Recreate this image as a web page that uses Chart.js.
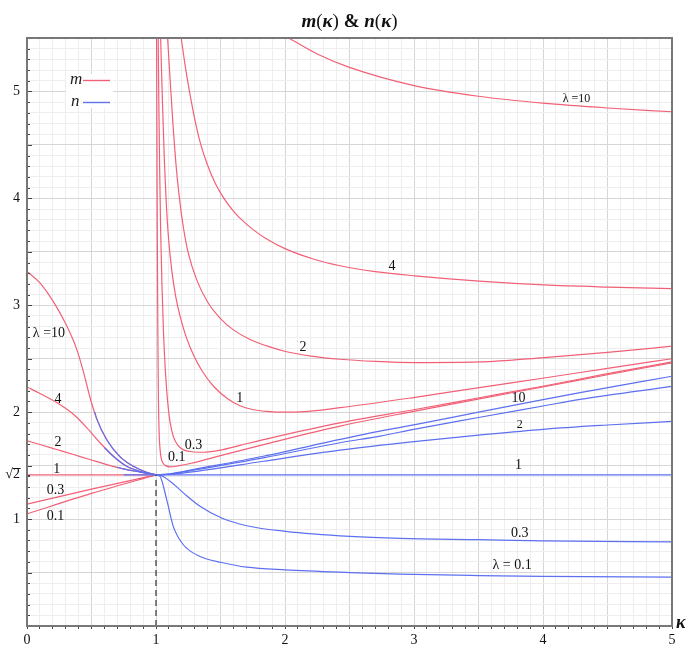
<!DOCTYPE html>
<html>
<head>
<meta charset="utf-8">
<script src="https://cdn.jsdelivr.net/npm/chart.js@4.4.0/dist/chart.umd.min.js"></script>
<style>
  html, body { margin: 0; padding: 0; background: #fff; }
  #wrap { width: 689px; height: 650px; }
</style>
</head>
<body>
<div id="wrap"><canvas id="chart" width="689" height="650"></canvas></div>
<script>
// m(κ) curves, left of κ = 1  ([κ, m])
const mLeft10 = [[0, 3.317], [0.1, 3.21], [0.204, 3.034], [0.307, 2.81], [0.385, 2.59], [0.437, 2.38], [0.488, 2.14], [0.54, 1.94], [0.617, 1.745], [0.72, 1.585], [0.824, 1.494], [0.928, 1.438], [1, 1.414]];
const mLeft4 = [[0, 2.236], [0.1, 2.175], [0.23, 2.09], [0.36, 1.98], [0.463, 1.855], [0.566, 1.714], [0.669, 1.588], [0.773, 1.494], [0.876, 1.447], [1, 1.414]];
const mLeft2 = [[0, 1.732], [0.1, 1.698], [0.23, 1.651], [0.36, 1.604], [0.488, 1.557], [0.617, 1.51], [0.747, 1.47], [0.876, 1.44], [1, 1.414]];
const mLeft1 = [[0, 1.414], [1, 1.414]];
const mLeft03 = [[0, 1.14], [0.5, 1.28], [1, 1.414]];
const mLeft01 = [[0, 1.049], [0.5, 1.24], [1, 1.414]];

// m(κ) curves, right of κ = 1
const mRight01 = [[1.004, 5.6], [1.01, 3.7], [1.014, 2.8], [1.018, 2.2], [1.024, 1.82], [1.031, 1.66], [1.04, 1.57], [1.057, 1.52], [1.075, 1.5], [1.109, 1.489], [1.18, 1.5], [1.264, 1.52], [1.522, 1.6], [1.909, 1.72], [2.426, 1.87], [3.008, 2.01], [3.506, 2.125], [4.008, 2.238], [4.5, 2.35], [5, 2.462]];
const mRight03 = [[1.016, 5.6], [1.021, 5.0], [1.028, 4.3], [1.036, 3.7], [1.046, 3.2], [1.058, 2.75], [1.072, 2.4], [1.09, 2.1], [1.11, 1.9], [1.135, 1.77], [1.17, 1.69], [1.21, 1.65], [1.264, 1.632], [1.33, 1.625], [1.393, 1.627], [1.5, 1.645], [1.651, 1.69], [1.909, 1.765], [2.426, 1.9], [3.008, 2.025], [3.506, 2.135], [4.008, 2.245], [4.5, 2.36], [5, 2.47]];
const mRight1 = [[1.03, 5.8], [1.036, 5.5], [1.05, 4.9], [1.065, 4.35], [1.08, 3.95], [1.095, 3.66], [1.12, 3.35], [1.15, 3.1], [1.186, 2.9], [1.235, 2.7], [1.289, 2.54], [1.36, 2.38], [1.444, 2.245], [1.55, 2.13], [1.651, 2.06], [1.75, 2.025], [1.858, 2.008], [2.0, 2.0], [2.116, 2.002], [2.426, 2.042], [3.008, 2.139], [3.506, 2.23], [4.008, 2.32], [4.5, 2.41], [5, 2.5]];
const mRight2 = [[1.086, 5.6], [1.09, 5.5], [1.11, 5.1], [1.134, 4.65], [1.16, 4.25], [1.186, 3.96], [1.212, 3.73], [1.25, 3.49], [1.315, 3.24], [1.4, 3.03], [1.496, 2.88], [1.6, 2.77], [1.729, 2.68], [1.858, 2.62], [2.013, 2.565], [2.2, 2.525], [2.426, 2.495], [2.7, 2.475], [3.008, 2.464], [3.506, 2.47], [4.008, 2.511], [4.5, 2.56], [5, 2.617]];
const mRight4 = [[1.195, 5.5], [1.238, 5.15], [1.289, 4.81], [1.341, 4.53], [1.4, 4.31], [1.46, 4.14], [1.527, 4.0], [1.6, 3.88], [1.651, 3.815], [1.75, 3.71], [1.858, 3.62], [2.0, 3.53], [2.219, 3.433], [2.426, 3.37], [2.7, 3.315], [3.008, 3.275], [3.506, 3.225], [4.008, 3.19], [4.5, 3.17], [5, 3.155]];
const mRight10 = [[2.0, 5.52], [2.25, 5.35], [2.5, 5.225], [3.0, 5.055], [3.5, 4.955], [4.0, 4.89], [4.5, 4.845], [5, 4.81]];

// n(κ) curves ([κ, n])
const nLeft10 = [[0.525, 2.0], [0.54, 1.94], [0.617, 1.745], [0.72, 1.585], [0.824, 1.494], [0.928, 1.438], [1, 1.414]];
const nLeft4 = [[0.6, 1.67], [0.669, 1.588], [0.773, 1.494], [0.876, 1.447], [1, 1.414]];
const nLeft2 = [[0.7, 1.485], [0.747, 1.47], [0.876, 1.44], [1, 1.414]];
const nLeft1 = [[0.75, 1.414], [1, 1.414]];
const nRight10 = [[1, 1.414], [1.1, 1.422], [1.315, 1.47], [1.832, 1.588], [2.426, 1.745], [2.736, 1.823], [3.008, 1.883], [3.5, 2.0], [4, 2.117], [4.287, 2.183], [5, 2.336]];
const nRight4 = [[1, 1.414], [1.1, 1.42], [1.315, 1.463], [1.832, 1.573], [2.426, 1.714], [2.736, 1.776], [3.008, 1.842], [3.5, 1.95], [4, 2.058], [4.287, 2.12], [5, 2.242]];
const nRight2 = [[1, 1.414], [1.1, 1.418], [1.315, 1.447], [1.832, 1.541], [2.426, 1.645], [3.0, 1.725], [3.5, 1.785], [4.0, 1.84], [4.5, 1.88], [5, 1.914]];
const nRight1 = [[1, 1.414], [5, 1.414]];
const nRight03 = [[1, 1.414], [1.018, 1.414], [1.109, 1.354], [1.212, 1.245], [1.341, 1.12], [1.509, 1.01], [1.703, 0.938], [2.005, 0.885], [2.504, 0.838], [2.891, 0.819], [3.5, 0.807], [4, 0.797], [5, 0.787]];
const nRight01 = [[1, 1.414], [1.031, 1.4], [1.083, 1.182], [1.134, 0.932], [1.212, 0.76], [1.341, 0.65], [1.509, 0.594], [1.703, 0.55], [2.005, 0.525], [2.504, 0.5], [2.891, 0.485], [3.5, 0.472], [4, 0.465], [5, 0.458]];

const kappaOne = [[1, 0], [1, 1.414]];

// axis labels
const xLabels = [0, 1, 2, 3, 4, 5];
const yLabels = [1, 2, 3, 4, 5];

// curve labels: [text, κ, value, font size]
const curveLabels = [
  ['λ =10', 4.26, 4.93, 12],
  ['4', 2.83, 3.36, 14], ['2', 2.14, 2.61, 14], ['1', 1.65, 2.13, 14],
  ['0.3', 1.29, 1.69, 14], ['0.1', 1.16, 1.58, 14],
  ['λ =10', 0.17, 2.74, 14], ['4', 0.24, 2.12, 14], ['2', 0.24, 1.72, 14],
  ['1', 0.23, 1.47, 14], ['0.3', 0.22, 1.27, 14], ['0.1', 0.22, 1.03, 14],
  ['10', 3.81, 2.13, 14], ['2', 3.82, 1.88, 12], ['1', 3.81, 1.506, 14],
  ['0.3', 3.82, 0.867, 14], ['λ = 0.1', 3.76, 0.564, 14]
];

const RED = 'rgb(242, 96, 118)';
const BLUE = 'rgb(92, 112, 240)';
const SERIF = '"Liberation Serif", "DejaVu Serif", serif';

function toPts(arr) {
  return arr.map(p => ({ x: p[0], y: p[1] }));
}

function curve(arr, color, order) {
  return {
    data: toPts(arr),
    showLine: true,
    borderColor: color,
    borderWidth: 1.2,
    pointRadius: 0,
    cubicInterpolationMode: 'monotone',
    order: order
  };
}

const datasets = [];
[mLeft10, mLeft4, mLeft2, mLeft1, mLeft03, mLeft01,
 mRight01, mRight03, mRight1, mRight2, mRight4, mRight10].forEach(a => datasets.push(curve(a, RED, 2)));
[nLeft10, nLeft4, nLeft2, nLeft1,
 nRight10, nRight4, nRight2, nRight1, nRight03, nRight01].forEach(a => datasets.push(curve(a, BLUE, 1)));
datasets.push({
  data: toPts(kappaOne), showLine: true, borderColor: '#333', borderWidth: 1.2,
  borderDash: [6, 4], pointRadius: 0, order: 0
});

function isStep(v, n) {
  const r = Math.round(v * 10);
  return Math.abs(v * 10 - r) < 1e-6 && r % n === 0;
}

function gridColor(ctx) {
  const v = ctx.tick.value;
  const r = Math.round(v * 10);
  if (Math.abs(v * 10 - r) > 1e-6) return 'rgba(0,0,0,0)';
  return r % 5 === 0 ? '#d6d6d6' : '#eeeeee';
}

// title, legend, frame, inside ticks and curve labels
const decorations = {
  id: 'decorations',
  afterDatasetsDraw(chart) {
    const c = chart.ctx;
    const area = chart.chartArea;
    const xs = chart.scales.x, ys = chart.scales.y;

    // inside tick marks on the y axis
    c.save();
    c.strokeStyle = '#444';
    c.lineWidth = 1;
    ys.ticks.forEach(t => {
      const y = Math.round(ys.getPixelForValue(t.value)) + 0.5;
      const len = isStep(t.value, 5) ? 5 : 3;
      c.beginPath();
      c.moveTo(area.left, y);
      c.lineTo(area.left + len, y);
      c.stroke();
    });

    // overline of the radical in the √2 tick label
    c.font = '14px ' + SERIF;
    const r2 = area.left - 7;
    const w2 = c.measureText('2').width;
    const yr = Math.round(ys.getPixelForValue(Math.SQRT2)) - 6.5;
    c.strokeStyle = '#111';
    c.beginPath();
    c.moveTo(r2 - w2 - 0.5, yr);
    c.lineTo(r2 + 0.5, yr);
    c.stroke();
    c.restore();

    // frame
    c.save();
    c.strokeStyle = '#777';
    c.lineWidth = 2;
    c.strokeRect(area.left, area.top, area.right - area.left, area.bottom - area.top);
    c.restore();

    // curve labels
    c.save();
    c.fillStyle = '#111';
    c.textAlign = 'center';
    c.textBaseline = 'middle';
    curveLabels.forEach(l => {
      c.font = l[3] + 'px ' + SERIF;
      c.fillText(l[0], xs.getPixelForValue(l[1]), ys.getPixelForValue(l[2]));
    });
    c.restore();

    // legend
    c.save();
    c.fillStyle = '#fff';
    c.fillRect(66, 74, 47, 34);
    c.font = 'italic 17px ' + SERIF;
    c.fillStyle = '#222';
    c.textBaseline = 'middle';
    c.fillText('m', 70, 80);
    c.fillText('n', 71, 102);
    c.lineWidth = 1.4;
    c.strokeStyle = RED;
    c.beginPath(); c.moveTo(83, 80.5); c.lineTo(110, 80.5); c.stroke();
    c.strokeStyle = BLUE;
    c.beginPath(); c.moveTo(83, 102.5); c.lineTo(110, 102.5); c.stroke();
    c.restore();

    // title
    const parts = [['m', 'bold italic'], ['(', 'normal'], ['κ', 'bold italic'], [')', 'normal'],
                   [' & ', 'bold'], ['n', 'bold italic'], ['(', 'normal'], ['κ', 'bold italic'], [')', 'normal']];
    c.save();
    c.fillStyle = '#111';
    c.textBaseline = 'middle';
    let w = 0;
    parts.forEach(p => { c.font = p[1] + ' 19px ' + SERIF; w += c.measureText(p[0]).width; });
    let x = (area.left + area.right) / 2 - w / 2;
    parts.forEach(p => {
      c.font = p[1] + ' 19px ' + SERIF;
      c.fillText(p[0], x, 22);
      x += c.measureText(p[0]).width;
    });

    // axis name
    c.font = 'bold italic 18px ' + SERIF;
    c.fillText('κ', area.right + 4, area.bottom - 3);
    c.restore();
  }
};

new Chart(document.getElementById('chart'), {
  type: 'scatter',
  data: { datasets: datasets },
  options: {
    responsive: false,
    animation: false,
    layout: { padding: { top: 38, right: 17, left: 0, bottom: 0 } },
    plugins: {
      legend: { display: false },
      tooltip: { enabled: false }
    },
    scales: {
      x: {
        type: 'linear',
        min: 0,
        max: 5,
        afterFit: s => { s.height = 24; },
        border: { display: false },
        grid: {
          color: gridColor,
          lineWidth: 1,
          tickLength: 3,
          tickColor: '#444',
          drawTicks: true
        },
        ticks: {
          stepSize: 0.1,
          autoSkip: false,
          maxRotation: 0,
          padding: 3,
          color: '#111',
          font: { family: SERIF, size: 14 },
          callback: v => {
            const r = Math.round(v);
            return Math.abs(v - r) < 1e-6 && xLabels.includes(r) ? String(r) : '';
          }
        }
      },
      y: {
        type: 'linear',
        min: 0,
        max: 5.5,
        afterFit: s => { s.width = 27; },
        afterBuildTicks: s => {
          s.ticks.push({ value: Math.SQRT2 });
          s.ticks.sort((a, b) => a.value - b.value);
        },
        border: { display: false },
        grid: { color: gridColor, lineWidth: 1, drawTicks: false },
        ticks: {
          stepSize: 0.1,
          autoSkip: false,
          padding: 7,
          color: '#111',
          font: { family: SERIF, size: 14 },
          callback: v => {
            if (Math.abs(v - Math.SQRT2) < 1e-6) return '√2';
            const r = Math.round(v);
            return Math.abs(v - r) < 1e-6 && yLabels.includes(r) ? String(r) : '';
          }
        }
      }
    }
  },
  plugins: [decorations]
});
</script>
</body>
</html>
